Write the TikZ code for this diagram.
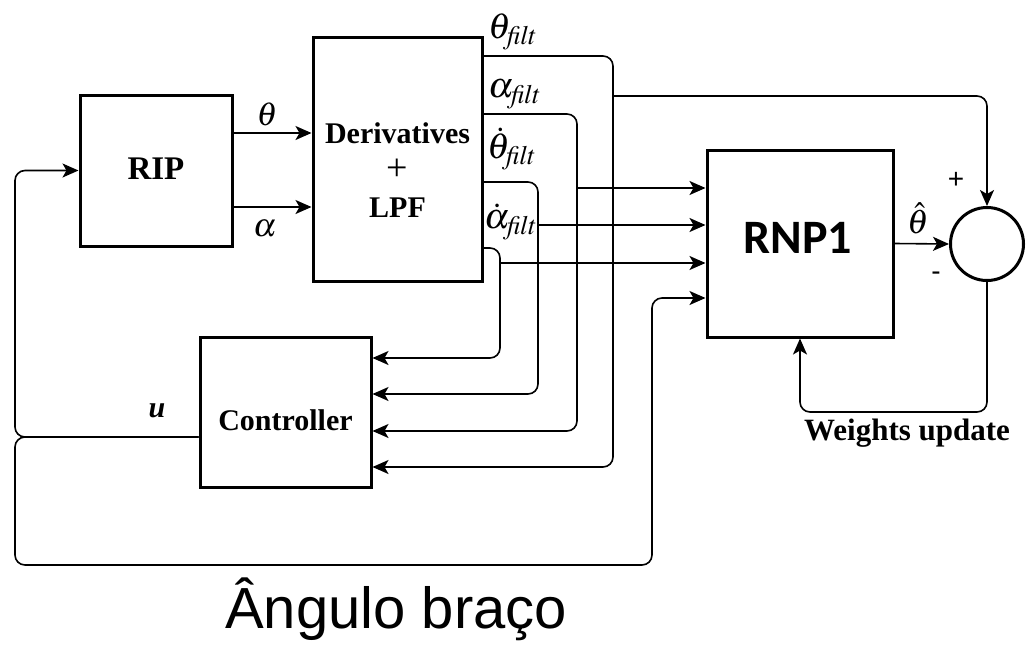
\documentclass[tikz,border=0pt]{standalone}
\usepackage{mathptmx}
\usepackage[no-math]{fontspec}
\setmainfont{Liberation Serif}
\newfontfamily\calibri{Carlito}
\newfontfamily\arial{Liberation Sans}
\usetikzlibrary{arrows.meta}

\begin{document}
\begin{tikzpicture}[x=1pt, y=-1pt,
    block/.style={draw, line width=3pt, inner sep=0pt},
    block text/.style={align=center, font=\fontsize{30}{37}\selectfont\bfseries},
    wire/.style={line width=1.6pt, rounded corners=10pt},
    arr/.style={wire, -{Stealth[length=16pt, width=14pt, inset=4pt]}},
    sig label/.style={font=\fontsize{33}{34}\selectfont},
    filt label/.style={font=\fontsize{36}{38}\selectfont, anchor=west, inner sep=1pt}
]
    \useasboundingbox (0,0) rectangle (1028,648);

    % blocos
    \node[block, minimum width=152pt, minimum height=151pt] (rip) at (156,170.5) {};
    \node[block text, font=\fontsize{33}{37}\selectfont\bfseries] (rip-text) at (156,169) {RIP};
    \node[block, minimum width=169pt, minimum height=244pt] (deriv) at (397.5,159) {};
    \node[block text] (deriv-text) at (397.5,170)
        {Derivatives\\{\mdseries\fontsize{38}{37}\selectfont +}\\LPF};
    \node[block, minimum width=171pt, minimum height=150pt] (ctrl) at (285.5,412) {};
    \node[block text] (ctrl-text) at (285.5,420) {Controller};
    \node[block, minimum width=186pt, minimum height=187pt] (rnp) at (800,243.5) {};
    \node[font=\calibri\bfseries\fontsize{48}{50}\selectfont] (rnp-text) at (798,238) {RNP1};
    \node[draw, circle, line width=3pt, minimum size=73pt, inner sep=0pt] (sum) at (987,244) {};

    % RIP -> Derivatives
    \draw[arr] (rip.east |- 0,133) -- (deriv.west |- 0,133);
    \draw[arr] (rip.east |- 0,207) -- (deriv.west |- 0,207);
    \node[sig label] (th) at (267,114) {$\theta$};
    \node[sig label] (al) at (265,229) {$\alpha$};

    % saidas filtradas -> Controller
    \foreach \y/\x/\yc in {56/613/467, 114/577/431, 182/538/394, 248/500/358}
        \draw[arr] (deriv.east |- 0,\y) -- (\x,\y) -- (\x,\yc) -- (ctrl.east |- 0,\yc);
    \node[filt label] (thf) at (487,32) {$\theta_{\mathit{filt}}$};
    \node[filt label] (alf) at (487,94) {$\alpha_{\mathit{filt}}$};
    \node[filt label] (thdf) at (486,149) {$\dot{\theta}_{\mathit{filt}}$};
    \node[filt label] (aldf) at (483,222) {$\dot{\alpha}_{\mathit{filt}}$};

    % saidas filtradas -> RNP1 e soma
    \draw[arr] (613,96) -| (sum.north);
    \foreach \x/\y in {577/188, 538/225, 500/263}
        \draw[arr] (\x,\y) -- (rnp.west |- 0,\y);

    % sinal de controle u
    \draw[arr] (ctrl.west |- 0,437) -- (15,437) |- (rip.west);
    \draw[arr] (ctrl.west |- 0,437) -- (15,437) -- (15,565) -| (652,298) -- (rnp.west |- 0,298);
    \node[sig label, font=\fontsize{30}{30}\selectfont] (u) at (157,411) {\bfseries\itshape u};

    % RNP1 -> soma e atualizacao dos pesos
    \draw[arr] (rnp.east) -- (sum.west);
    \node[sig label, font=\fontsize{34}{34}\selectfont] (thhat) at (918,218) {$\hat{\theta}$};
    \node[font=\arial\fontsize{28}{28}\selectfont] (plus) at (956,180) {+};
    \node[font=\arial\fontsize{28}{28}\selectfont] (minus) at (936,276) {-};
    \draw[arr] (sum.south) -- (987,412) -| (rnp.south);
    \node[font=\fontsize{31}{32}\selectfont\bfseries] (wu) at (907,433) {Weights update};

    \node[font=\arial\fontsize{58}{60}\selectfont, anchor=base west, inner sep=0pt]
        (title) at (225,628) {Ângulo braço};
\end{tikzpicture}
\end{document}
